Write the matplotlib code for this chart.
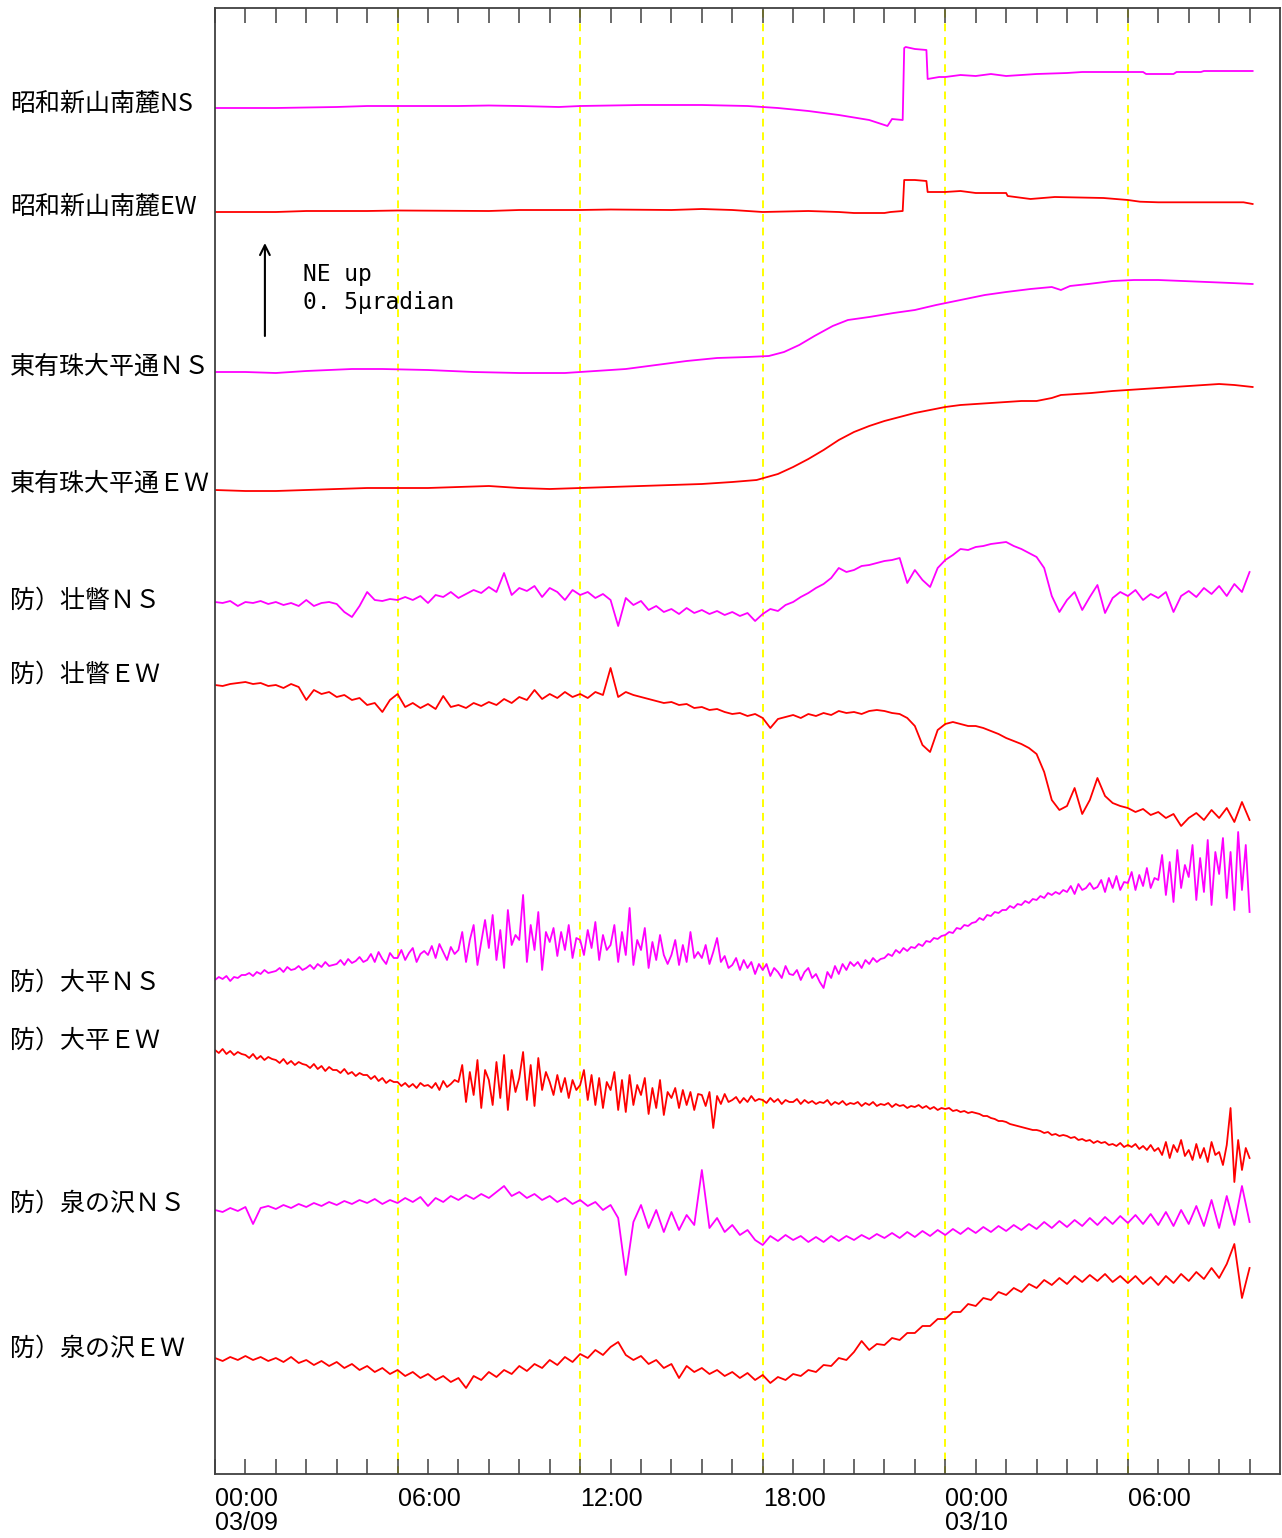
import numpy as np
import matplotlib
matplotlib.use('Agg')
import matplotlib.pyplot as plt

# 03/09 00:00 -> 03/10 11:00, hours
t_end = 35
t15 = np.arange(137) * 0.25    # 15 min samples
t7 = np.arange(273) * 0.125    # 7.5 min samples

labels = ['昭和新山南麓NS', '昭和新山南麓EW', '東有珠大平通ＮＳ', '東有珠大平通ＥＷ',
          '防）壮瞥ＮＳ', '防）壮瞥ＥＷ', '防）大平ＮＳ', '防）大平ＥＷ',
          '防）泉の沢ＮＳ', '防）泉の沢ＥＷ']
colors = ['#ff00ff', '#ff0000'] * 5

# tilt, up positive (90 units = 0.5 micro radian)
showa_ns_t = [0, 2, 4, 5, 8, 9, 10, 11.3, 12, 14, 16, 17.5, 18.5, 19.5, 20.5, 21.5, 22.0, 22.1, 22.25, 22.6,
              22.65, 22.7, 23.0, 23.38, 23.42, 23.8, 24.0, 24.5, 25.0, 25.5, 26.0, 27.0, 28.0, 28.5, 30.5, 30.6,
              31.5, 31.6, 32.4, 32.5, 34.1]
showa_ns = [2, 2, 3, 4, 4, 4.5, 4, 3, 4, 5, 5, 4, 2, -1, -5, -10, -15, -16, -9, -10,
            62, 63, 61, 60, 31, 33, 33, 35, 34, 36, 34, 36, 37, 38, 38, 36,
            36, 38, 38, 39, 39]

showa_ew_t = [0, 2, 3, 5, 6, 9, 10, 12, 13, 15, 16, 17, 18, 19.5, 20.5, 21.0, 22.0, 22.2, 22.6, 22.65,
              23.0, 23.38, 23.42, 24.0, 24.5, 25.0, 26.0, 26.05, 26.8, 27.6, 29.2, 30.0, 30.4, 31.0, 33.8, 34.1]
showa_ew = [-2, -2, -1, -1, -0.5, -1, 0, 0, 0.5, 0, 1, 0, -2, -1, -2, -3, -3, -2, -1, 30,
            30, 29, 18, 18, 19, 17, 17, 14, 11, 13, 12, 10, 8.3, 7.7, 7.7, 6]

higashi_ns_t = [0, 1, 2, 3, 4.5, 5.5, 7, 8.5, 10, 11.5, 12.5, 13.5, 14.5, 15.5, 16.5, 17.5, 18.2, 18.7, 19.2, 19.7,
                20.3, 20.8, 21.5, 22.3, 23.0, 23.7, 24.5, 25.3, 26.0, 26.8, 27.5, 27.8, 28.1, 28.7, 29.5, 30.2,
                31.0, 31.8, 32.6, 33.4, 34.1]
higashi_ns = [-2, -2, -3, -1, 1, 1, 0, -2, -3, -3, -1, 1, 5, 9, 12, 13, 14, 18, 25, 34,
              44, 50, 53, 57, 60, 65, 70, 75, 78, 81, 83, 80, 84, 86, 89, 90,
              90, 89, 88, 87, 86]

higashi_ew_t = [0, 1, 2, 3, 4, 5, 6, 7, 8, 9, 10, 11, 12, 13, 14, 15, 16, 17, 17.8, 18.5,
                19.0, 19.5, 20.0, 20.5, 21.0, 21.5, 22.0, 22.5, 23.0, 23.5, 24.0, 24.5, 25.0, 25.5, 26.0, 26.5,
                27.0, 27.5, 27.8, 28.3, 28.8, 29.5, 30.0, 30.5, 31.0, 31.5, 32.0, 32.5, 33.0, 33.5, 34.1]
higashi_ew = [0, -1, -1, 0, 1, 2, 2, 2, 3, 4, 2, 1, 2, 3, 4, 5, 6, 8, 10, 16,
              23, 31, 40, 50, 58, 64, 69, 73, 77, 80, 83, 85, 86, 87, 88, 89,
              89, 92, 95, 96, 97, 99, 100, 101, 102, 103, 104, 105, 106, 105, 103]

soubetsu_ns = [-2, -3, -1, -6, -2, -3, -1, -4, -2, -5, -3, -6, 0, -6, -3, -2, -4, -12, -17, -6,
               8, 0, -1, 1, 0, 3, 0, 4, -3, 5, 3, 8, 2, 6, 10, 7, 13, 8, 27, 5,
               12, 9, 14, 3, 12, 8, 0, 10, 5, 8, 2, 6, 0, -26, 2, -5, -1, -10, -6, -12,
               -9, -14, -8, -13, -10, -14, -11, -15, -12, -16, -13, -21, -14, -9, -11, -5, -2, 3, 7, 12,
               16, 22, 32, 28, 30, 34, 35, 37, 39, 40, 42, 17, 30, 20, 13, 32, 40, 45, 51, 50,
               53, 54, 56, 57, 58, 54, 51, 47, 43, 32, 4, -12, 0, 8, -10, 3, 15, -13, 2, 8,
               4, 10, 0, 6, 2, 8, -12, 4, 9, 3, 12, 6, 14, 4, 16, 8, 28]

soubetsu_ew = [15, 14, 16, 17, 18, 16, 17, 14, 15, 12, 16, 13, 0, 10, 6, 8, 3, 5, 0, 2,
               -5, -3, -12, 0, 6, -7, -3, -8, -4, -9, 4, -7, -5, -8, -3, -6, -2, -5, 1, -3,
               3, 0, 10, 1, 6, 2, 8, 3, 6, 2, 8, 5, 32, 3, 8, 5, 3, 1, -1, -3,
               -2, -5, -4, -8, -7, -10, -9, -12, -14, -13, -16, -14, -18, -28, -19, -17, -15, -18, -14, -16,
               -13, -15, -11, -13, -12, -14, -11, -10, -11, -13, -14, -18, -26, -45, -52, -30, -24, -22, -24, -26,
               -26, -28, -31, -34, -38, -41, -44, -48, -54, -72, -100, -110, -106, -88, -114, -100, -78, -96, -103, -106,
               -108, -112, -109, -115, -112, -118, -114, -126, -118, -113, -120, -110, -118, -108, -122, -102, -120]

# one row per hour, 7.5 min steps
oohira_ns = [-30, -27, -29, -26, -31, -27, -28, -25,
             -25, -23, -26, -22, -24, -20, -23, -22,
             -21, -18, -22, -17, -20, -19, -16, -20,
             -18, -15, -19, -14, -17, -12, -16, -15,
             -14, -10, -15, -9, -13, -11, -7, -12,
             -10, -4, -12, -2, -9, -14, -3, -8,
             -8, 0, -10, -3, 2, -12, -4, -1,
             -5, 4, -8, 6, -2, -10, 3, -4,
             0, 18, -12, 10, 25, -15, 8, 30,
             2, 35, -10, 20, -18, 40, 5, 15,
             10, 55, -12, 25, 0, 38, -20, 18,
             8, 22, -6, 18, 0, 25, -8, 12,
             10, -5, 20, 2, 28, -10, 15, 0,
             5, 25, -12, 18, -5, 42, -15, 10,
             0, 22, -18, 8, -10, 15, -5, -14,
             -5, 10, -15, 5, -12, 18, -8, -2,
             -8, 5, -14, -2, 12, -12, -6, -18,
             -15, -8, -20, -10, -18, -12, -24, -14,
             -20, -14, -26, -18, -22, -28, -16, -24,
             -25, -20, -30, -22, -18, -28, -24, -32,
             -38, -22, -28, -16, -24, -14, -20, -12,
             -16, -12, -18, -10, -14, -8, -12, -9,
             -8, -4, -6, 0, -3, 2, -1, 3,
             2, 6, 4, 9, 8, 12, 11, 14,
             15, 18, 17, 22, 21, 25, 24, 27,
             28, 32, 30, 35, 34, 38, 37, 40,
             40, 44, 42, 46, 45, 49, 47, 51,
             50, 54, 52, 57, 55, 58, 56, 60,
             58, 64, 56, 66, 60, 62, 67, 61,
             63, 70, 58, 72, 62, 74, 60, 68,
             67, 78, 60, 75, 64, 82, 62, 72,
             70, 95, 55, 88, 48, 100, 62, 85,
             73, 105, 50, 92, 58, 110, 45, 98,
             76, 112, 52, 98, 40, 118, 60, 105,
             38]

oohira_ew = [50, 47, 51, 46, 49, 45, 48, 46,
             45, 42, 46, 41, 44, 40, 43, 41,
             40, 37, 41, 36, 39, 35, 38, 36,
             35, 32, 36, 31, 34, 29, 33, 30,
             30, 27, 31, 26, 28, 24, 27, 25,
             25, 21, 24, 19, 22, 17, 20, 18,
             18, 14, 17, 13, 16, 12, 17, 14,
             15, 12, 17, 10, 19, 13, 16, 20,
             18, 35, -2, 28, 5, 40, -8, 30,
             20, -5, 38, 2, 45, -10, 30, 8,
             22, 48, 0, 35, -6, 42, 10, 28,
             18, 5, 25, 8, 22, 2, 20, 10,
             15, 30, 0, 25, -5, 22, -8, 18,
             10, 28, -10, 20, -12, 25, -5, 15,
             5, 22, -14, 12, -8, 20, -15, 8,
             2, 12, -8, 10, -5, 8, -10, 6,
             5, -6, 8, -28, 4, -4, 6, -2,
             0, 3, -3, 2, -2, 4, -1, 1,
             0, -3, 2, -2, 1, -4, 0, -2,
             -2, 1, -4, 0, -3, -1, -4, -2,
             -3, 0, -5, -2, -4, -1, -5, -3,
             -4, -2, -6, -3, -5, -2, -6, -4,
             -5, -3, -7, -4, -6, -5, -8, -6,
             -7, -5, -8, -6, -9, -7, -10, -8,
             -9, -8, -11, -10, -12, -11, -13, -12,
             -13, -14, -16, -16, -18, -19, -21, -21,
             -22, -24, -25, -26, -27, -28, -29, -30,
             -30, -31, -33, -32, -35, -34, -36, -35,
             -36, -38, -37, -40, -39, -41, -40, -43,
             -41, -43, -42, -45, -44, -46, -43, -47,
             -45, -47, -44, -49, -46, -50, -45, -51,
             -48, -55, -42, -58, -45, -52, -40, -56,
             -50, -60, -44, -58, -48, -62, -42, -55,
             -52, -65, -45, -8, -82, -40, -70, -48,
             -58]

izumi_ns = [10, 8, 12, 9, 13, -4, 12, 14, 11, 15, 12, 16, 13, 17, 14, 18, 15, 19, 16, 20,
            17, 21, 16, 20, 17, 22, 18, 23, 14, 22, 18, 24, 20, 25, 21, 26, 22, 28, 34, 24,
            28, 22, 26, 20, 24, 18, 22, 16, 20, 14, 18, 10, 15, 2, -55, -2, 15, -8, 10, -12,
            8, -10, 5, -5, 50, -8, 2, -12, -5, -15, -10, -20, -25, -16, -21, -15, -20, -16, -22, -17,
            -22, -16, -21, -16, -20, -15, -19, -14, -18, -13, -18, -12, -17, -11, -16, -10, -15, -9, -14, -8,
            -13, -7, -12, -6, -11, -5, -10, -4, -9, -2, -8, -1, -7, 0, -6, 2, -5, 3, -4, 4,
            -3, 5, -4, 6, -5, 8, -6, 10, -4, 14, -6, 20, -8, 24, -5, 34, -2]

izumi_ew = [2, -1, 3, 0, 4, 0, 3, -1, 2, -2, 3, -3, 0, -5, -1, -6, -2, -8, -4, -10,
            -6, -12, -8, -14, -10, -16, -12, -18, -14, -20, -16, -22, -18, -28, -16, -20, -12, -17, -10, -14,
            -6, -11, -4, -8, 0, -5, 3, -2, 6, 2, 10, 5, 13, 18, 5, 0, 4, -4, 0, -8,
            -4, -18, -6, -12, -8, -14, -10, -16, -12, -18, -13, -20, -15, -23, -17, -20, -14, -16, -10, -12,
            -5, -6, 2, 0, 8, 19, 10, 16, 15, 22, 20, 27, 27, 34, 34, 41, 41, 48, 48, 56,
            54, 62, 60, 68, 65, 72, 68, 76, 72, 80, 75, 82, 76, 84, 78, 85, 79, 86, 78, 84,
            77, 84, 76, 83, 75, 84, 77, 86, 79, 88, 81, 92, 82, 96, 116, 62, 92]

series = [(showa_ns_t, showa_ns), (showa_ew_t, showa_ew), (higashi_ns_t, higashi_ns),
          (higashi_ew_t, higashi_ew), (t15, soubetsu_ns), (t15, soubetsu_ew), (t7, oohira_ns),
          (t7, oohira_ew), (t15, izumi_ns), (t15, izumi_ew)]

# layout (pixel rows from the top of the image)
W, H = 1282, 1538
trace_base = [110, 210, 370, 490, 600, 700, 950, 1100, 1220, 1360]
label_y = [104, 207, 367, 484, 601, 675, 983, 1041, 1204, 1349]
ax_top, ax_bot, ax_left, ax_right = 8, 1474, 215, 1280

tick_text = {0: '00:00\n03/09', 6: '06:00', 12: '12:00', 18: '18:00', 24: '00:00\n03/10', 30: '06:00'}
cjk = ['Noto Sans CJK JP', 'DejaVu Sans']

fig = plt.figure(figsize=(W / 100, H / 100), dpi=100)
ax = fig.add_axes([ax_left / W, (H - ax_bot) / H, (ax_right - ax_left) / W, (ax_bot - ax_top) / H])
ax.set_xlim(0, t_end)
ax.set_ylim(ax_bot, ax_top)

for h in [6, 12, 18, 24, 30]:
    ax.axvline(h, color='#ffff00', lw=1.4, ls=(0, (4, 3)), zorder=1)

for (tt, vv), base, c in zip(series, trace_base, colors):
    ax.plot(tt, base - np.array(vv), color=c, lw=1.3, zorder=2)

# scale arrow
ax.annotate('', xy=(1.64, 243), xytext=(1.64, 336),
            arrowprops=dict(arrowstyle='->,head_length=0.7,head_width=0.35', lw=1.5, color='black',
                            shrinkA=0, shrinkB=0))
fig.text(303 / W, 1 - 274 / H, 'NE up', fontsize=16.5, family='DejaVu Sans Mono', va='center', ha='left')
fig.text(303 / W, 1 - 303 / H, '0. 5μradian', fontsize=16.5, family='DejaVu Sans Mono', va='center', ha='left')

for lab, y in zip(labels, label_y):
    fig.text(10 / W, 1 - y / H, lab, fontsize=18, family=cjk, va='center', ha='left')

ax.set_xticks(np.arange(0, t_end))
ax.set_xticklabels([tick_text.get(h, '') for h in range(t_end)])
ax.set_yticks([])
ax.tick_params(axis='x', direction='in', top=True, length=11, width=1.1, color='#404040',
               pad=9, labelsize=18)
for lab in ax.get_xticklabels():
    lab.set_horizontalalignment('left')
    lab.set_linespacing(1.0)
    lab.set_family('Liberation Sans')
for s in ax.spines.values():
    s.set_color('#404040')
    s.set_linewidth(1.3)

fig.savefig('out.png', dpi=100)
